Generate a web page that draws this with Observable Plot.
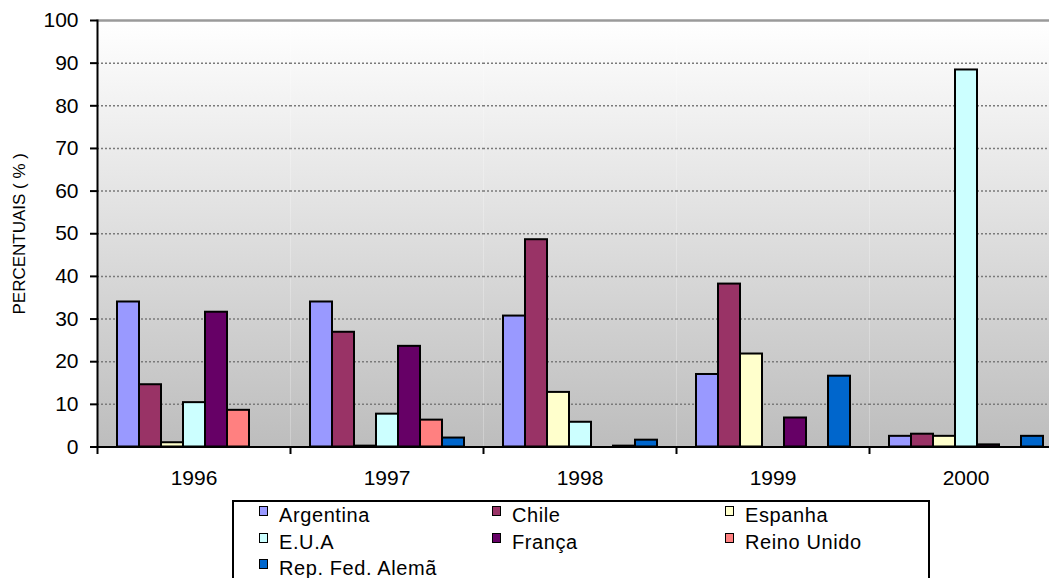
<!DOCTYPE html>
<html>
<head>
<meta charset="utf-8">
<script src="https://cdn.jsdelivr.net/npm/d3@7"></script>
<script src="https://cdn.jsdelivr.net/npm/@observablehq/plot@0.6"></script>
<style>
  html, body { margin: 0; padding: 0; background: #fff; overflow: hidden; }
  #wrap { position: relative; width: 1049px; height: 578px; overflow: hidden; font-family: "Liberation Sans", Arial, sans-serif; }
  #legend {
    position: absolute; left: 232px; top: 500px; width: 698px; height: 110px;
    box-sizing: border-box; border: 2px solid #000; background: #fff;
    display: grid; grid-template-columns: repeat(3, 233px); grid-auto-rows: 26.5px;
    padding-left: 25px;
  }
  .item { display: flex; align-items: flex-start; font-size: 20px; line-height: 26.5px; letter-spacing: 0.6px; color: #000; white-space: nowrap; }
  .sw { width: 9px; height: 10px; box-sizing: border-box; border: 1.5px solid #000; margin-top: 4px; margin-right: 11px; flex: none; }
</style>
</head>
<body>
<div id="wrap"></div>
<script>
// Years on the category axis and the seven origin countries
const years = ["1996", "1997", "1998", "1999", "2000"];
const countries = ["Argentina", "Chile", "Espanha", "E.U.A", "França", "Reino Unido", "Rep. Fed. Alemã"];
const colors = ["#9999ff", "#993366", "#ffffcc", "#ccffff", "#660066", "#ff8080", "#0066cc"];

// Share (%) per country, one value per year
const argentina  = [34.0, 34.0, 30.7, 17.0, 2.5];
const chile      = [14.6, 26.9, 48.6, 38.2, 3.0];
const espanha    = [1.0, 0.2, 12.8, 21.8, 2.5];
const eua        = [10.4, 7.7, 5.8, 0, 88.4];
const franca     = [31.6, 23.6, 0, 6.8, 0.5];
const reinoUnido = [8.6, 6.3, 0.2, 0, 0];
const repFed     = [0, 2.1, 1.6, 16.6, 2.5];

const yTicks = [0, 10, 20, 30, 40, 50, 60, 70, 80, 90, 100];
const gridValues = [10, 20, 30, 40, 50, 60, 70, 80, 90];

const series = [argentina, chile, espanha, eua, franca, reinoUnido, repFed];
const rows = [];
years.forEach((year, i) => {
  countries.forEach((country, j) => {
    rows.push({year, country, value: series[j][i]});
  });
});

const chart = Plot.plot({
  width: 1049,
  height: 492,
  marginTop: 20,
  marginBottom: 45.5,
  marginLeft: 97,
  marginRight: 0,
  style: {fontFamily: "'Liberation Sans', Arial, sans-serif", color: "#000", background: "transparent", overflow: "visible"},
  fx: {domain: years, range: [97, 1062], padding: 0},
  x: {domain: countries, paddingInner: 0, paddingOuter: 0.72, axis: null},
  y: {domain: [0, 100]},
  color: {domain: countries, range: colors},
  marks: [
    Plot.frame({fill: "url(#plotBg)", stroke: null}),
    Plot.ruleY(gridValues, {stroke: "#7a7a7a", strokeWidth: 1.5, strokeDasharray: "2,2"}),
    Plot.ruleY([100], {stroke: "#9a9a9a", strokeWidth: 2.5}),
    Plot.barY(rows, {fx: "year", x: "country", y: "value", fill: "country", stroke: "#000", strokeWidth: 2}),
    Plot.ruleY([0], {stroke: "#000", strokeWidth: 2}),
    // short marks below the baseline at each category boundary
    Plot.frame({anchor: "left", stroke: "#000", strokeWidth: 2, insetTop: 426.5, insetBottom: -6}),
    // value axis line
    Plot.frame({anchor: "left", facetAnchor: "left", stroke: "#000", strokeWidth: 2}),
    Plot.axisY({ticks: yTicks, tickSize: 7, tickPadding: 12, strokeWidth: 2, fontSize: 21, label: null}),
    Plot.axisY({ticks: [], tickSize: 0, fontSize: 17, label: "PERCENTUAIS ( % )", labelAnchor: "center", labelArrow: "none", labelOffset: 85}),
    Plot.axisFx({anchor: "bottom", tickSize: 0, tickPadding: 23, fontSize: 21, label: null})
  ]
});

// vertical white-to-grey fill of the plotting area
d3.select(chart).insert("defs", ":first-child").html(
  '<linearGradient id="plotBg" x1="0" y1="0" x2="0" y2="1">' +
  '<stop offset="0" stop-color="#ffffff"/><stop offset="1" stop-color="#bdbdbd"/></linearGradient>'
);

const wrap = document.getElementById("wrap");
wrap.appendChild(chart);

// legend box below the chart
const legend = document.createElement("div");
legend.id = "legend";
countries.forEach((c, i) => {
  const item = document.createElement("div");
  item.className = "item";
  const sw = document.createElement("span");
  sw.className = "sw";
  sw.style.background = colors[i];
  const label = document.createElement("span");
  label.textContent = c;
  item.appendChild(sw);
  item.appendChild(label);
  legend.appendChild(item);
});
wrap.appendChild(legend);
</script>
</body>
</html>
